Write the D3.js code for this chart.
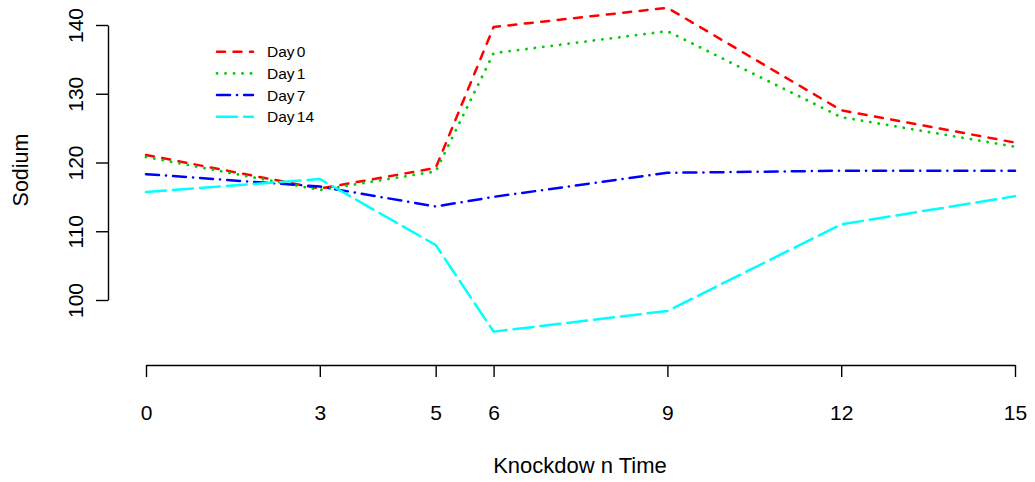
<!DOCTYPE html>
<html>
<head>
<meta charset="utf-8">
<script src="https://cdn.jsdelivr.net/npm/d3@7"></script>
<style>
  html, body { margin: 0; padding: 0; background: #fff; }
  svg { display: block; font-family: "Liberation Sans", Arial, sans-serif; }
</style>
</head>
<body>
<svg id="chart" width="1035" height="482"></svg>
<script>
// Sodium readings over knockdown time, one series per day
const times = [0, 3, 5, 6, 9, 12, 15];
const day0  = [121.1, 116.2, 119.2, 139.7, 142.5, 127.6, 122.9];
const day1  = [120.8, 116.0, 118.7, 135.9, 139.1, 126.6, 122.3];
const day7  = [118.3, 116.5, 113.6, 115.0, 118.5, 118.8, 118.8];
const day14 = [115.7, 117.6, 108.0, 95.4, 98.4, 111.0, 115.1];

const seriesNames = ["Day 0", "Day 1", "Day 7", "Day 14"];
const xTicks = [0, 3, 5, 6, 9, 12, 15];
const yTicks = [100, 110, 120, 130, 140];

const seriesValues = [day0, day1, day7, day14];
const colors = ["#FF0000", "#00CD00", "#0000FF", "#00FFFF"];
const dashes = ["8 8.5", "0.1 8.4", "13 7 0.1 7", "20 7"];
const widths = [2.5, 2.8, 2.5, 2.5];

const svg = d3.select("#chart");

const x = d3.scaleLinear().domain([0, 15]).range([146, 1015]);
const y = d3.scaleLinear().domain([100, 140]).range([300, 25]);

const tickFont = 21;

// y axis with rotated labels
const yAxis = svg.append("g")
  .attr("transform", "translate(108,0)")
  .call(d3.axisLeft(y).tickValues(yTicks).tickSize(12).tickSizeOuter(0).tickFormat(d3.format("d")));
yAxis.selectAll("text")
  .attr("transform", "rotate(-90)")
  .attr("x", 0).attr("y", -25).attr("dy", 0)
  .attr("text-anchor", "middle")
  .style("font-size", tickFont + "px")
  .style("font-family", "'Liberation Sans', Arial, sans-serif")
  .attr("fill", "#000");

// x axis
const xAxis = svg.append("g")
  .attr("transform", "translate(0,365)")
  .call(d3.axisBottom(x).tickValues(xTicks).tickSize(12).tickSizeOuter(0).tickFormat(d3.format("d")));
xAxis.selectAll("text")
  .attr("y", 54.5).attr("dy", 0)
  .style("font-size", tickFont + "px")
  .style("font-family", "'Liberation Sans', Arial, sans-serif")
  .attr("fill", "#000");

svg.selectAll(".domain, .tick line")
  .attr("stroke", "#000").attr("stroke-width", 1.4);

// axis titles
svg.append("text")
  .attr("x", 580).attr("y", 473)
  .attr("text-anchor", "middle")
  .style("font-size", "22px")
  .text("Knockdow n Time");

svg.append("text")
  .attr("transform", "translate(28,170) rotate(-90)")
  .attr("text-anchor", "middle")
  .style("font-size", "21.5px")
  .text("Sodium");

// series lines
const line = d3.line()
  .x((d, i) => x(times[i]))
  .y(d => y(d));

svg.append("g").selectAll("path")
  .data(seriesValues)
  .join("path")
  .attr("d", d => line(d))
  .attr("fill", "none")
  .attr("stroke", (d, i) => colors[i])
  .attr("stroke-width", (d, i) => widths[i])
  .attr("stroke-dasharray", (d, i) => dashes[i])
  .attr("stroke-linecap", "round")
  .attr("stroke-linejoin", "round");

// legend
const legend = svg.append("g").attr("transform", "translate(217,51.7)");
const rows = legend.selectAll("g")
  .data(seriesNames)
  .join("g")
  .attr("transform", (d, i) => `translate(0,${i * 21.7})`);
rows.append("line")
  .attr("x1", 0).attr("x2", 36).attr("y1", 0).attr("y2", 0)
  .attr("stroke", (d, i) => colors[i])
  .attr("stroke-width", (d, i) => widths[i])
  .attr("stroke-dasharray", (d, i) => dashes[i])
  .attr("stroke-linecap", "round");
rows.append("text")
  .attr("x", 50).attr("y", 5.6)
  .style("font-size", "15.5px")
  .style("word-spacing", "-2px")
  .text(d => d);
</script>
</body>
</html>
